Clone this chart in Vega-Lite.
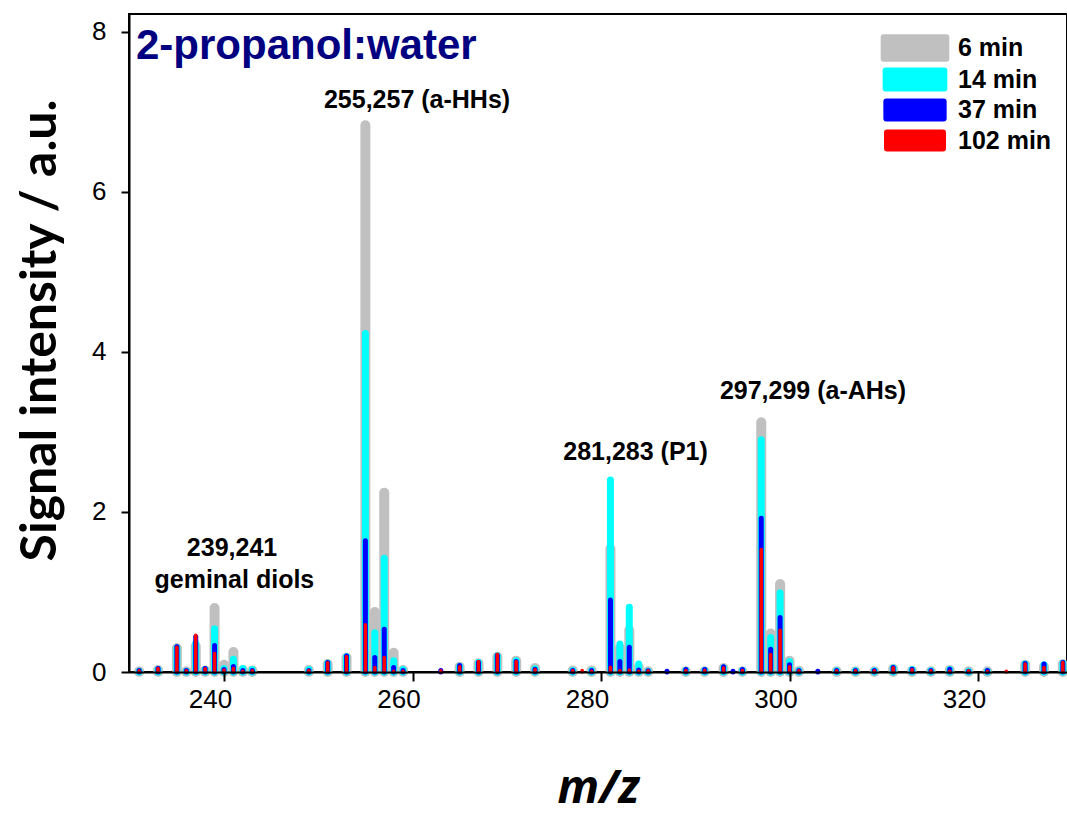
{
  "$schema": "https://vega.github.io/schema/vega-lite/v6.json",
  "width": 938,
  "height": 658,
  "autosize": {"type": "none"},
  "padding": {"left": 129, "top": 14, "right": 0, "bottom": 144},
  "background": "white",
  "config": {
    "view": {"stroke": "black", "strokeWidth": 2},
    "font": "Liberation Sans",
    "axisX": {"labelOffset": -14, "labelPadding": 5, "tickSize": 9},
    "axisY": {"labelPadding": 15, "tickSize": 8}
  },
  "resolve": {"legend": {"color": "independent"}},
  "datasets": {
    "peaks": [
      {"mz":231,"s":"6 min","v":0.01},{"mz":233,"s":"6 min","v":0.025},{"mz":235,"s":"6 min","v":0.30},{"mz":236,"s":"6 min","v":0.01},{"mz":237,"s":"6 min","v":0.32},{"mz":238,"s":"6 min","v":0.02},{"mz":239,"s":"6 min","v":0.80},{"mz":240,"s":"6 min","v":0.09},{"mz":241,"s":"6 min","v":0.25},{"mz":242,"s":"6 min","v":0.025},{"mz":243,"s":"6 min","v":0.02},{"mz":249,"s":"6 min","v":0.025},{"mz":251,"s":"6 min","v":0.10},{"mz":253,"s":"6 min","v":0.18},{"mz":255,"s":"6 min","v":6.83},{"mz":256,"s":"6 min","v":0.75},{"mz":257,"s":"6 min","v":2.24},{"mz":258,"s":"6 min","v":0.24},{"mz":259,"s":"6 min","v":0.025},{"mz":265,"s":"6 min","v":0.066},{"mz":267,"s":"6 min","v":0.11},{"mz":269,"s":"6 min","v":0.19},{"mz":271,"s":"6 min","v":0.14},{"mz":273,"s":"6 min","v":0.05},{"mz":277,"s":"6 min","v":0.02},{"mz":279,"s":"6 min","v":0.02},{"mz":281,"s":"6 min","v":1.54},{"mz":282,"s":"6 min","v":0.30},{"mz":283,"s":"6 min","v":0.52},{"mz":284,"s":"6 min","v":0.06},{"mz":285,"s":"6 min","v":0.01},{"mz":289,"s":"6 min","v":0.01},{"mz":291,"s":"6 min","v":0.01},{"mz":293,"s":"6 min","v":0.05},{"mz":295,"s":"6 min","v":0.01},{"mz":297,"s":"6 min","v":3.12},{"mz":298,"s":"6 min","v":0.48},{"mz":299,"s":"6 min","v":1.10},{"mz":300,"s":"6 min","v":0.14},{"mz":301,"s":"6 min","v":0.016},{"mz":305,"s":"6 min","v":0.01},{"mz":307,"s":"6 min","v":0.01},{"mz":309,"s":"6 min","v":0.01},{"mz":311,"s":"6 min","v":0.04},{"mz":313,"s":"6 min","v":0.016},{"mz":315,"s":"6 min","v":0.01},{"mz":317,"s":"6 min","v":0.025},{"mz":319,"s":"6 min","v":0.01},{"mz":321,"s":"6 min","v":0.01},{"mz":325,"s":"6 min","v":0.09},{"mz":327,"s":"6 min","v":0.066},{"mz":329,"s":"6 min","v":0.10},
      {"mz":231,"s":"14 min","v":0.01},{"mz":233,"s":"14 min","v":0.03},{"mz":235,"s":"14 min","v":0.30},{"mz":236,"s":"14 min","v":0.01},{"mz":237,"s":"14 min","v":0.36},{"mz":238,"s":"14 min","v":0.03},{"mz":239,"s":"14 min","v":0.54},{"mz":240,"s":"14 min","v":0.045},{"mz":241,"s":"14 min","v":0.16},{"mz":242,"s":"14 min","v":0.045},{"mz":243,"s":"14 min","v":0.03},{"mz":249,"s":"14 min","v":0.03},{"mz":251,"s":"14 min","v":0.11},{"mz":253,"s":"14 min","v":0.19},{"mz":255,"s":"14 min","v":4.23},{"mz":256,"s":"14 min","v":0.49},{"mz":257,"s":"14 min","v":1.42},{"mz":258,"s":"14 min","v":0.14},{"mz":259,"s":"14 min","v":0.03},{"mz":265,"s":"14 min","v":0.07},{"mz":267,"s":"14 min","v":0.12},{"mz":269,"s":"14 min","v":0.20},{"mz":271,"s":"14 min","v":0.14},{"mz":273,"s":"14 min","v":0.04},{"mz":277,"s":"14 min","v":0.02},{"mz":279,"s":"14 min","v":0.02},{"mz":281,"s":"14 min","v":2.40},{"mz":282,"s":"14 min","v":0.35},{"mz":283,"s":"14 min","v":0.81},{"mz":284,"s":"14 min","v":0.10},{"mz":285,"s":"14 min","v":0.01},{"mz":289,"s":"14 min","v":0.02},{"mz":291,"s":"14 min","v":0.02},{"mz":293,"s":"14 min","v":0.05},{"mz":295,"s":"14 min","v":0.02},{"mz":297,"s":"14 min","v":2.90},{"mz":298,"s":"14 min","v":0.43},{"mz":299,"s":"14 min","v":0.99},{"mz":300,"s":"14 min","v":0.13},{"mz":301,"s":"14 min","v":0.015},{"mz":305,"s":"14 min","v":0.015},{"mz":307,"s":"14 min","v":0.015},{"mz":309,"s":"14 min","v":0.015},{"mz":311,"s":"14 min","v":0.05},{"mz":313,"s":"14 min","v":0.03},{"mz":315,"s":"14 min","v":0.015},{"mz":317,"s":"14 min","v":0.03},{"mz":319,"s":"14 min","v":0.01},{"mz":321,"s":"14 min","v":0.01},{"mz":325,"s":"14 min","v":0.10},{"mz":327,"s":"14 min","v":0.09},{"mz":329,"s":"14 min","v":0.11},
      {"mz":231,"s":"37 min","v":0.02},{"mz":233,"s":"37 min","v":0.045},{"mz":235,"s":"37 min","v":0.315},{"mz":236,"s":"37 min","v":0.02},{"mz":237,"s":"37 min","v":0.44},{"mz":238,"s":"37 min","v":0.045},{"mz":239,"s":"37 min","v":0.33},{"mz":240,"s":"37 min","v":0.03},{"mz":241,"s":"37 min","v":0.07},{"mz":242,"s":"37 min","v":0.02},{"mz":243,"s":"37 min","v":0.02},{"mz":249,"s":"37 min","v":0.02},{"mz":251,"s":"37 min","v":0.12},{"mz":253,"s":"37 min","v":0.20},{"mz":255,"s":"37 min","v":1.64},{"mz":256,"s":"37 min","v":0.18},{"mz":257,"s":"37 min","v":0.535},{"mz":258,"s":"37 min","v":0.056},{"mz":259,"s":"37 min","v":0.02},{"mz":263,"s":"37 min","v":0.02},{"mz":265,"s":"37 min","v":0.08},{"mz":267,"s":"37 min","v":0.12},{"mz":269,"s":"37 min","v":0.21},{"mz":271,"s":"37 min","v":0.13},{"mz":273,"s":"37 min","v":0.035},{"mz":277,"s":"37 min","v":0.02},{"mz":279,"s":"37 min","v":0.02},{"mz":281,"s":"37 min","v":0.90},{"mz":282,"s":"37 min","v":0.13},{"mz":283,"s":"37 min","v":0.31},{"mz":284,"s":"37 min","v":0.025},{"mz":285,"s":"37 min","v":0.015},{"mz":287,"s":"37 min","v":0.01},{"mz":289,"s":"37 min","v":0.03},{"mz":291,"s":"37 min","v":0.03},{"mz":293,"s":"37 min","v":0.065},{"mz":294,"s":"37 min","v":0.01},{"mz":295,"s":"37 min","v":0.03},{"mz":297,"s":"37 min","v":1.92},{"mz":298,"s":"37 min","v":0.285},{"mz":299,"s":"37 min","v":0.68},{"mz":300,"s":"37 min","v":0.09},{"mz":301,"s":"37 min","v":0.02},{"mz":303,"s":"37 min","v":0.01},{"mz":305,"s":"37 min","v":0.02},{"mz":307,"s":"37 min","v":0.02},{"mz":309,"s":"37 min","v":0.02},{"mz":311,"s":"37 min","v":0.056},{"mz":313,"s":"37 min","v":0.035},{"mz":315,"s":"37 min","v":0.02},{"mz":317,"s":"37 min","v":0.035},{"mz":319,"s":"37 min","v":0.01},{"mz":321,"s":"37 min","v":0.02},{"mz":325,"s":"37 min","v":0.105},{"mz":327,"s":"37 min","v":0.10},{"mz":329,"s":"37 min","v":0.12},
      {"mz":231,"s":"102 min","v":0.015},{"mz":233,"s":"102 min","v":0.045},{"mz":235,"s":"102 min","v":0.31},{"mz":236,"s":"102 min","v":0.015},{"mz":237,"s":"102 min","v":0.46},{"mz":238,"s":"102 min","v":0.04},{"mz":239,"s":"102 min","v":0.23},{"mz":240,"s":"102 min","v":0.025},{"mz":241,"s":"102 min","v":0.045},{"mz":242,"s":"102 min","v":0.01},{"mz":243,"s":"102 min","v":0.015},{"mz":249,"s":"102 min","v":0.02},{"mz":251,"s":"102 min","v":0.115},{"mz":253,"s":"102 min","v":0.19},{"mz":255,"s":"102 min","v":0.59},{"mz":256,"s":"102 min","v":0.057},{"mz":257,"s":"102 min","v":0.18},{"mz":258,"s":"102 min","v":0.01},{"mz":259,"s":"102 min","v":0.01},{"mz":263,"s":"102 min","v":0.015},{"mz":265,"s":"102 min","v":0.065},{"mz":267,"s":"102 min","v":0.13},{"mz":269,"s":"102 min","v":0.22},{"mz":271,"s":"102 min","v":0.13},{"mz":273,"s":"102 min","v":0.03},{"mz":277,"s":"102 min","v":0.02},{"mz":278,"s":"102 min","v":0.02},{"mz":279,"s":"102 min","v":0.01},{"mz":281,"s":"102 min","v":0.06},{"mz":282,"s":"102 min","v":0.02},{"mz":283,"s":"102 min","v":0.025},{"mz":284,"s":"102 min","v":0.01},{"mz":285,"s":"102 min","v":0.015},{"mz":289,"s":"102 min","v":0.02},{"mz":291,"s":"102 min","v":0.02},{"mz":293,"s":"102 min","v":0.05},{"mz":295,"s":"102 min","v":0.02},{"mz":297,"s":"102 min","v":1.53},{"mz":298,"s":"102 min","v":0.22},{"mz":299,"s":"102 min","v":0.52},{"mz":300,"s":"102 min","v":0.065},{"mz":301,"s":"102 min","v":0.015},{"mz":305,"s":"102 min","v":0.015},{"mz":307,"s":"102 min","v":0.015},{"mz":309,"s":"102 min","v":0.015},{"mz":311,"s":"102 min","v":0.053},{"mz":313,"s":"102 min","v":0.028},{"mz":315,"s":"102 min","v":0.015},{"mz":317,"s":"102 min","v":0.01},{"mz":319,"s":"102 min","v":0.015},{"mz":321,"s":"102 min","v":0.005},{"mz":323,"s":"102 min","v":0.01},{"mz":325,"s":"102 min","v":0.10},{"mz":327,"s":"102 min","v":0.055},{"mz":329,"s":"102 min","v":0.12}
    ],
    "notes": [
      {"t":"255,257 (a-HHs)","mz":260.48,"v":7.15},
      {"t":"239,241","mz":240.85,"v":1.55},
      {"t":"geminal diols","mz":241.1,"v":1.15},
      {"t":"281,283 (P1)","mz":283.66,"v":2.75},
      {"t":"297,299 (a-AHs)","mz":302.49,"v":3.51}
    ],
    "ttl": [
      {"t":"2-propanol:water","mz":230.66,"v":7.82}
    ]
  },
  "layer": [
    {
      "data": {"name": "peaks"},
      "transform": [{"filter": "datum.s === '6 min'"}],
      "mark": {"type": "rule", "strokeCap": "round", "strokeWidth": 10},
      "encoding": {
        "x": {
          "field": "mz", "type": "quantitative",
          "scale": {"domain": [229.92, 329.44], "nice": false, "zero": false},
          "axis": {
            "values": [240, 260, 280, 300, 320],
            "title": "m/z",
            "titleFont": "Open Sans", "titleFontStyle": "italic", "titleFontWeight": "bold", "titleFontSize": 46, "titleColor": "black", "titlePadding": 54,
            "labelFont": "Liberation Sans", "labelFontSize": 26, "labelColor": "black", "labelOffset": -14, "labelPadding": 5,
            "labelFlush": false, "labelOverlap": false,
            "tickSize": 9, "tickWidth": 2, "tickColor": "black",
            "domainColor": "black", "domainWidth": 2, "grid": false, "zindex": 1
          }
        },
        "y": {
          "field": "v", "type": "quantitative",
          "scale": {"domain": [0, 8.22], "nice": false},
          "axis": {
            "values": [0, 2, 4, 6, 8], "format": "d",
            "title": "Signal intensity / a.u.",
            "titleFont": "Lato", "titleFontWeight": "bold", "titleFontSize": 50, "titleColor": "black", "titlePadding": 26, "titleY": 316,
            "labelFont": "Liberation Sans", "labelFontSize": 26, "labelColor": "black", "labelPadding": 15,
            "labelFlush": false, "labelOverlap": false,
            "tickSize": 8, "tickWidth": 2, "tickColor": "black",
            "domainColor": "black", "domainWidth": 2, "grid": false, "zindex": 1
          }
        },
        "y2": {"datum": 0},
        "color": {
          "field": "s", "type": "nominal",
          "scale": {"domain": ["6 min", "14 min", "37 min", "102 min"], "range": ["#C0C0C0", "#00FFFF", "#0000FF", "#FF0000"]},
          "legend": null
        }
      }
    },
    {
      "data": {"name": "peaks"},
      "transform": [{"filter": "datum.s === '14 min'"}],
      "mark": {"type": "rule", "strokeCap": "round", "strokeWidth": 7},
      "encoding": {
        "x": {"field": "mz", "type": "quantitative"},
        "y": {"field": "v", "type": "quantitative"},
        "y2": {"datum": 0},
        "color": {"field": "s", "type": "nominal", "legend": null}
      }
    },
    {
      "data": {"name": "peaks"},
      "transform": [{"filter": "datum.s === '37 min'"}],
      "mark": {"type": "rule", "strokeCap": "round", "strokeWidth": 5},
      "encoding": {
        "x": {"field": "mz", "type": "quantitative"},
        "y": {"field": "v", "type": "quantitative"},
        "y2": {"datum": 0},
        "color": {"field": "s", "type": "nominal", "legend": null}
      }
    },
    {
      "data": {"name": "peaks"},
      "transform": [{"filter": "datum.s === '102 min'"}],
      "mark": {"type": "rule", "strokeCap": "round", "strokeWidth": 3.5},
      "encoding": {
        "x": {"field": "mz", "type": "quantitative"},
        "y": {"field": "v", "type": "quantitative"},
        "y2": {"datum": 0},
        "color": {"field": "s", "type": "nominal", "legend": null}
      }
    },
    {
      "data": {"name": "peaks"},
      "mark": {"type": "square", "opacity": 0, "filled": true},
      "encoding": {
        "x": {"field": "mz", "type": "quantitative"},
        "y": {"field": "v", "type": "quantitative"},
        "color": {
          "field": "s", "type": "nominal",
          "legend": {
            "title": null, "orient": "none", "legendX": 771, "legendY": 19,
            "symbolSize": 900, "symbolOpacity": 1, "symbolStrokeWidth": 0,
            "labelOffset": 28, "rowPadding": 2.5, "padding": 0,
            "labelFont": "Liberation Sans", "labelFontWeight": "bold", "labelFontSize": 25, "labelColor": "black",
            "encode": {
              "symbols": {
                "update": {
                  "shape": {"signal": "datum.value === '6 min' ? 'M-2.087,-0.923H2.087Q2.287,-0.923 2.287,-0.723V0.723Q2.287,0.923 2.087,0.923H-2.087Q-2.287,0.923 -2.287,0.723V-0.723Q-2.287,-0.923 -2.087,-0.923Z' : datum.value === '14 min' ? 'M-1.957,-0.8H1.957Q2.157,-0.8 2.157,-0.6V0.6Q2.157,0.8 1.957,0.8H-1.957Q-2.157,0.8 -2.157,0.6V-0.6Q-2.157,-0.8 -1.957,-0.8Z' : datum.value === '37 min' ? 'M-1.91,-0.767H1.91Q2.11,-0.767 2.11,-0.567V0.567Q2.11,0.767 1.91,0.767H-1.91Q-2.11,0.767 -2.11,0.567V-0.567Q-2.11,-0.767 -1.91,-0.767Z' : 'M-1.867,-0.733H1.867Q2.067,-0.733 2.067,-0.533V0.533Q2.067,0.733 1.867,0.733H-1.867Q-2.067,0.733 -2.067,0.533V-0.533Q-2.067,-0.733 -1.867,-0.733Z'"},
                  "opacity": {"value": 1}
                }
              }
            }
          }
        }
      }
    },
    {
      "data": {"name": "notes"},
      "mark": {"type": "text", "font": "Liberation Sans", "fontWeight": "bold", "fontSize": 25, "align": "center", "baseline": "middle", "color": "black"},
      "encoding": {
        "x": {"field": "mz", "type": "quantitative"},
        "y": {"field": "v", "type": "quantitative"},
        "text": {"field": "t"}
      }
    },
    {
      "data": {"name": "ttl"},
      "mark": {"type": "text", "font": "Liberation Sans", "fontWeight": "bold", "fontSize": 42, "align": "left", "baseline": "middle", "color": "#000080"},
      "encoding": {
        "x": {"field": "mz", "type": "quantitative"},
        "y": {"field": "v", "type": "quantitative"},
        "text": {"field": "t"}
      }
    }
  ]
}
